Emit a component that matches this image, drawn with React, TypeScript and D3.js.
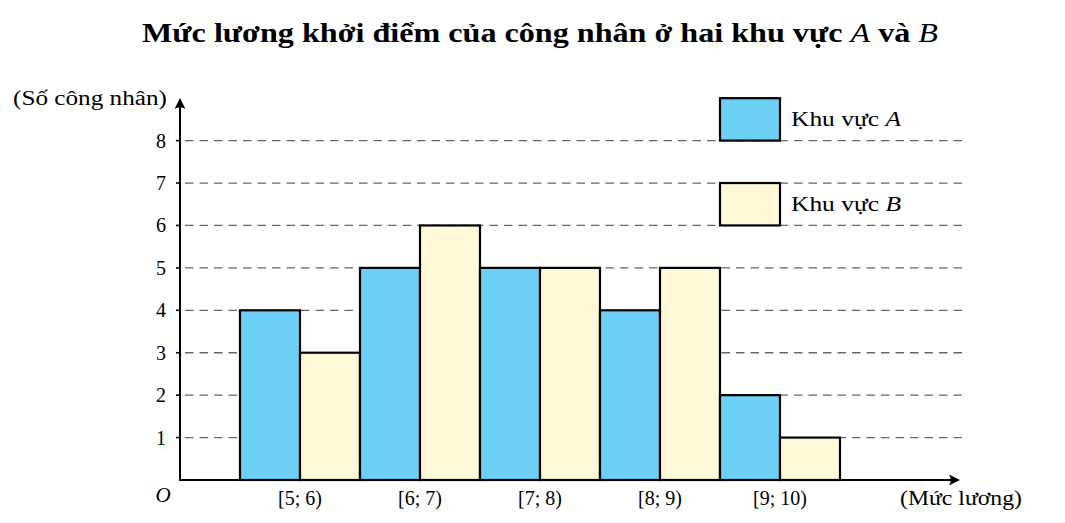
import React from "react";
import * as d3 from "d3";

const categories = ["[5; 6)", "[6; 7)", "[7; 8)", "[8; 9)", "[9; 10)"];
const seriesA = [4, 5, 5, 4, 2];
const seriesB = [3, 6, 5, 5, 1];
const yTicks = [1, 2, 3, 4, 5, 6, 7, 8];
const seriesNames = ["Khu vực", "Khu vực"];
const seriesLetters = ["A", "B"];
const legendBands = [[8, 9], [6, 7]];

const W = 1065;
const H = 523;
const COLOR_A = "#6CCFF6";
const COLOR_B = "#FFF9D7";
const FONT = "'Liberation Serif', 'Times New Roman', serif";

export default function App() {
  const axisX0 = 180;
  const axisX1 = 960;
  const axisYTop = 98;
  const x = d3.scaleBand<string>().domain(categories).range([240, 840]).padding(0);
  const y = d3.scaleLinear().domain([0, 8]).range([480, 140.6]);
  const half = x.bandwidth() / 2;
  const y0 = y(0);
  const legendX = x(categories[4])!;

  const arrow = "M0,0 L-11,-5.5 Q-7.5,0 -11,5.5 Z";

  return (
    <svg
      width={W}
      height={H}
      viewBox={`0 0 ${W} ${H}`}
      style={{ position: "fixed", left: 0, top: 0, background: "#fff" }}
      fontFamily={FONT}
    >
      <rect x={0} y={0} width={W} height={H} fill="#fff" />
      {/* Title */}
      <text x={142} y={42} fontSize={27} fontWeight="bold" textLength={796} lengthAdjust="spacingAndGlyphs">
        Mức lương khởi điểm của công nhân ở hai khu vực{" "}
        <tspan fontStyle="italic" fontWeight="normal">A</tspan> và{" "}
        <tspan fontStyle="italic" fontWeight="normal">B</tspan>
      </text>

      {/* Gridlines */}
      {yTicks.map((t) => (
        <line
          key={"g" + t}
          x1={axisX0 + 5}
          x2={axisX1 + 2}
          y1={y(t)}
          y2={y(t)}
          stroke="#666"
          strokeWidth={1.3}
          strokeDasharray="8.5 6"
        />
      ))}

      {/* Bars */}
      {categories.map((c, i) => (
        <g key={c}>
          <rect
            x={x(c)!}
            y={y(seriesA[i])}
            width={half}
            height={y0 - y(seriesA[i])}
            fill={COLOR_A}
            stroke="#000"
            strokeWidth={2.2}
          />
          <rect
            x={x(c)! + half}
            y={y(seriesB[i])}
            width={half}
            height={y0 - y(seriesB[i])}
            fill={COLOR_B}
            stroke="#000"
            strokeWidth={2.2}
          />
        </g>
      ))}

      {/* Legend */}
      {legendBands.map((b, i) => (
        <g key={"l" + i}>
          <rect
            x={legendX}
            y={y(b[1])}
            width={half}
            height={y(b[0]) - y(b[1])}
            fill={i === 0 ? COLOR_A : COLOR_B}
            stroke="#000"
            strokeWidth={2.2}
          />
          <text
            x={legendX + half + 11}
            y={(y(b[0]) + y(b[1])) / 2 + 7}
            fontSize={20}
            textLength={110}
            lengthAdjust="spacingAndGlyphs"
          >
            {seriesNames[i]} <tspan fontStyle="italic">{seriesLetters[i]}</tspan>
          </text>
        </g>
      ))}

      {/* Axes */}
      <line x1={axisX0} x2={axisX1 - 6} y1={y0} y2={y0} stroke="#000" strokeWidth={2} />
      <line x1={axisX0} x2={axisX0} y1={y0 + 1} y2={axisYTop + 6} stroke="#000" strokeWidth={2} />
      <path d={arrow} transform={`translate(${axisX1},${y0})`} fill="#000" />
      <path d={arrow} transform={`translate(${axisX0},${axisYTop}) rotate(-90)`} fill="#000" />

      {/* Y ticks */}
      {yTicks.map((t) => (
        <g key={"t" + t}>
          <line x1={axisX0 - 4} x2={axisX0} y1={y(t)} y2={y(t)} stroke="#000" strokeWidth={1.6} />
          <text x={axisX0 - 14} y={y(t) + 7} fontSize={20} textAnchor="end">
            {t}
          </text>
        </g>
      ))}

      {/* X labels */}
      {categories.map((c) => (
        <text key={"x" + c} x={x(c)! + half} y={505} fontSize={20} textAnchor="middle">
          {c}
        </text>
      ))}

      <text x={163} y={502} fontSize={21} fontStyle="italic" textAnchor="middle">O</text>
      <text x={167} y={105} fontSize={20} textAnchor="end" textLength={154} lengthAdjust="spacingAndGlyphs">
        (Số công nhân)
      </text>
      <text x={1022} y={505} fontSize={20} textAnchor="end" textLength={122} lengthAdjust="spacingAndGlyphs">
        (Mức lương)
      </text>
    </svg>
  );
}
